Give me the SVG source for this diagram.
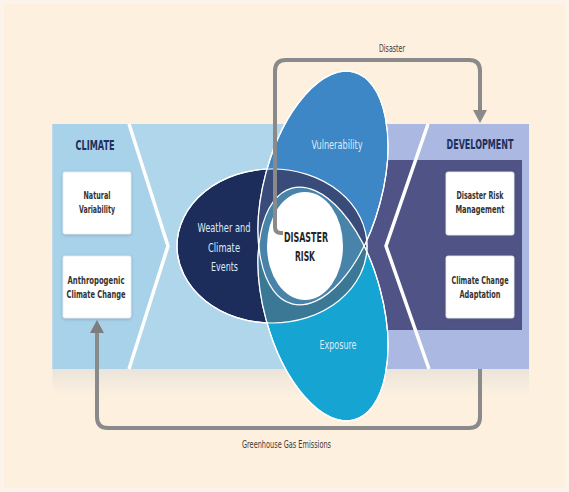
<svg xmlns="http://www.w3.org/2000/svg" width="569" height="492" viewBox="0 0 569 492">
  <defs>
    <style>
      .t { font-family: "Liberation Sans Narrow", "DejaVu Sans Condensed", "Liberation Sans", sans-serif; text-anchor: middle; }
      .head { font-size: 14px; font-weight: bold; fill: #1f2f5c; }
      .box { fill: #ffffff; stroke: #e6ecf2; stroke-width: 0.8; }
      .boxtxt { font-size: 11px; font-weight: bold; fill: #333333; }
      .ell { stroke: #ffffff; stroke-width: 1.2; }
      .inner { font-size: 13px; fill: #dfe9f4; }
      .lbl { font-size: 10px; fill: #3a3a3a; }
      .conn { fill: none; stroke: #8a8a8a; stroke-width: 4; stroke-linejoin: round; }
      .chev { fill: none; stroke: #ffffff; stroke-width: 3.5; stroke-linejoin: miter; }
    </style>
    <filter id="shadow" x="-20%" y="-20%" width="140%" height="140%">
      <feDropShadow dx="0" dy="1" stdDeviation="1.5" flood-color="#4a6070" flood-opacity="0.35"/>
    </filter>
    <linearGradient id="under" x1="0" y1="0" x2="0" y2="1">
      <stop offset="0" stop-color="#c9cdd2" stop-opacity="0.35"/>
      <stop offset="1" stop-color="#c9cdd2" stop-opacity="0"/>
    </linearGradient>
    <ellipse id="eWeather" cx="272" cy="246" rx="95" ry="77"/>
    <ellipse id="eVuln" cx="323" cy="188" rx="59" ry="120" transform="rotate(15 323 188)"/>
    <ellipse id="eExpo" cx="323" cy="304" rx="59" ry="120" transform="rotate(-15 323 304)"/>
    <clipPath id="cWeather"><use href="#eWeather"/></clipPath>
    <clipPath id="cVuln"><use href="#eVuln"/></clipPath>
  </defs>

  <!-- page -->
  <rect x="0" y="0" width="569" height="492" fill="#fcf4ea"/>
  <rect x="4" y="4" width="561" height="484" fill="#fdf0df"/>

  <!-- background band -->
  <g id="band">
    <rect x="52.5" y="369" width="476.5" height="26" fill="url(#under)"/>
    <rect x="52.5" y="124" width="320" height="245" fill="#afd6eb"/>
    <polygon points="52.5,124 129,124 168,246 129,369 52.5,369" fill="#a8d2e9"/>
    <rect x="360" y="124" width="169" height="245" fill="#aab8e2"/>
    <rect x="345" y="160" width="177" height="170" fill="#4f5385"/>
    <polyline class="chev" points="129,124 168,246 129,369"/>
    <polyline class="chev" points="428,124 386,246 429,369"/>
  </g>

  <!-- overlapping ellipses -->
  <g id="weather">
    <use href="#eWeather" class="ell" fill="#1c2d5c"/>
  </g>
  <g id="vulnerability">
    <use href="#eVuln" class="ell" fill="#3d87c6"/>
  </g>
  <g id="exposure">
    <use href="#eExpo" class="ell" fill="#16a5d2"/>
  </g>
  <g id="overlaps">
    <g clip-path="url(#cWeather)"><use href="#eVuln" fill="#394b78"/></g>
    <g clip-path="url(#cWeather)"><use href="#eExpo" fill="#3a7896"/></g>
    <g clip-path="url(#cVuln)"><use href="#eExpo" fill="#4884aa"/></g>
    <use href="#eWeather" fill="none" stroke="#ffffff" stroke-width="1.2"/>
    <use href="#eVuln" fill="none" stroke="#ffffff" stroke-width="1.2"/>
    <use href="#eExpo" fill="none" stroke="#ffffff" stroke-width="1.2"/>
  </g>
  <g id="disaster-risk">
    <ellipse cx="305" cy="246" rx="38" ry="54" fill="#ffffff"/>
  </g>

  <!-- connectors -->
  <g id="connectors">
    <path class="conn" d="M283,233 H281 Q275,233 275,227 V71 Q275,60 286,60 H469 Q480,60 480,71 V110"/>
    <polygon points="473,110 487,110 480,123" fill="#8a8a8a"/>
    <path class="conn" stroke="#7d7d7d" d="M480,369 V417 Q480,428 469,428 H108 Q97,428 97,417 V332"/>
    <polygon points="90,333 104,333 97,320" fill="#7d7d7d"/>
  </g>

  <!-- climate side -->
  <g id="climate">
    <text class="t head" x="95" y="150" textLength="39" lengthAdjust="spacingAndGlyphs">CLIMATE</text>
  </g>
  <g id="natural-variability">
    <rect class="box" x="63" y="172" width="68" height="62" rx="2" filter="url(#shadow)"/>
    <text class="t boxtxt" x="97" y="199" textLength="27" lengthAdjust="spacingAndGlyphs">Natural</text>
    <text class="t boxtxt" x="97" y="213" textLength="36" lengthAdjust="spacingAndGlyphs">Variability</text>
  </g>
  <g id="anthropogenic">
    <rect class="box" x="63" y="256" width="68" height="62" rx="2" filter="url(#shadow)"/>
    <text class="t boxtxt" x="96" y="284" textLength="57" lengthAdjust="spacingAndGlyphs">Anthropogenic</text>
    <text class="t boxtxt" x="96" y="298" textLength="59" lengthAdjust="spacingAndGlyphs">Climate Change</text>
  </g>

  <!-- development side -->
  <g id="development">
    <text class="t head" x="480" y="149" textLength="67" lengthAdjust="spacingAndGlyphs">DEVELOPMENT</text>
  </g>
  <g id="drm">
    <rect class="box" x="446" y="172" width="68" height="63" rx="2" filter="url(#shadow)"/>
    <text class="t boxtxt" x="480" y="199" textLength="47" lengthAdjust="spacingAndGlyphs">Disaster Risk</text>
    <text class="t boxtxt" x="480" y="213" textLength="49" lengthAdjust="spacingAndGlyphs">Management</text>
  </g>
  <g id="cca">
    <rect class="box" x="446" y="256" width="68" height="62" rx="2" filter="url(#shadow)"/>
    <text class="t boxtxt" x="480" y="284" textLength="57" lengthAdjust="spacingAndGlyphs">Climate Change</text>
    <text class="t boxtxt" x="480" y="298" textLength="41" lengthAdjust="spacingAndGlyphs">Adaptation</text>
  </g>

  <!-- labels on the ellipses -->
  <g id="labels">
    <text class="t inner" x="224" y="232" textLength="53" lengthAdjust="spacingAndGlyphs">Weather and</text>
    <text class="t inner" x="224" y="252" textLength="32" lengthAdjust="spacingAndGlyphs">Climate</text>
    <text class="t inner" x="224.5" y="271" textLength="27" lengthAdjust="spacingAndGlyphs">Events</text>
    <text class="t inner" x="337" y="149" font-size="12.5" textLength="51" lengthAdjust="spacingAndGlyphs">Vulnerability</text>
    <text class="t inner" x="338" y="349" font-size="12.5" textLength="37" lengthAdjust="spacingAndGlyphs">Exposure</text>
    <text class="t" x="306" y="242" font-size="14" font-weight="bold" fill="#262626" textLength="44" lengthAdjust="spacingAndGlyphs">DISASTER</text>
    <text class="t" x="305" y="261" font-size="14" font-weight="bold" fill="#262626" textLength="20" lengthAdjust="spacingAndGlyphs">RISK</text>
  </g>

  <g id="connector-labels">
    <text class="t lbl" x="392" y="52" textLength="26" lengthAdjust="spacingAndGlyphs">Disaster</text>
    <text class="t lbl" x="286.5" y="448" textLength="89" lengthAdjust="spacingAndGlyphs">Greenhouse Gas Emissions</text>
  </g>
</svg>
